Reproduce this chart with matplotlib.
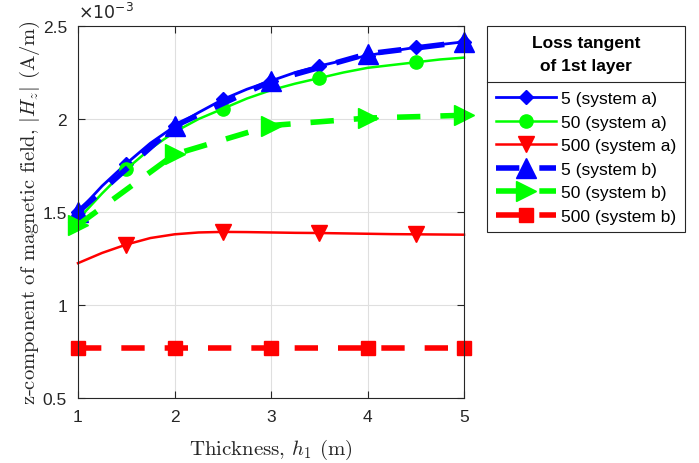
import matplotlib
matplotlib.use('Agg')
import matplotlib.pyplot as plt
from matplotlib.ticker import FuncFormatter, FixedLocator
from matplotlib.lines import Line2D

# ---- data (|Hz| in units of 1e-3 A/m) ----
thickness_a = [1.0, 1.25, 1.5, 1.75, 2.0, 2.25, 2.5, 2.75, 3.0, 3.25, 3.5, 3.75, 4.0, 4.25, 4.5, 4.75, 5.0]
hz_5_a = [1.50, 1.64, 1.76, 1.87, 1.96, 2.035, 2.105, 2.16, 2.205, 2.25, 2.285, 2.315, 2.34, 2.365, 2.385, 2.40, 2.415]
hz_50_a = [1.46, 1.60, 1.73, 1.84, 1.93, 2.00, 2.055, 2.11, 2.155, 2.19, 2.22, 2.25, 2.275, 2.29, 2.305, 2.32, 2.33]
hz_500_a = [1.225, 1.28, 1.325, 1.36, 1.38, 1.39, 1.393, 1.392, 1.39, 1.388, 1.387, 1.385, 1.383, 1.381, 1.38, 1.379, 1.378]

thickness_b = [1, 2, 3, 4, 5]
hz_5_b = [1.50, 1.962, 2.204, 2.35, 2.414]
hz_50_b = [1.43, 1.81, 1.965, 2.005, 2.02]
hz_500_b = [0.77, 0.77, 0.77, 0.77, 0.77]

labels = ['5 (system a)', '50 (system a)', '500 (system a)',
          '5 (system b)', '50 (system b)', '500 (system b)']
legend_title = 'Loss tangent\nof 1st layer'
x_ticks = [1, 2, 3, 4, 5]
y_ticks = [0.5, 1, 1.5, 2, 2.5]

W, H = 699, 464
fig = plt.figure(figsize=(W / 100, H / 100), dpi=100)
ax = fig.add_axes([78 / W, 1 - 399 / H, 386 / W, 372 / H])

sans = 'Liberation Sans'
blue, green, red = (0, 0, 1), (0, 1, 0), (1, 0, 0)

ax.plot(thickness_a, hz_5_a, color=blue, lw=2, marker='D', ms=7.5, markevery=2,
        clip_on=False, label=labels[0])
ax.plot(thickness_a, hz_50_a, color=green, lw=1.8, marker='o', ms=9.5,
        markevery=slice(2, None, 4), clip_on=False, label=labels[1])
ax.plot(thickness_a, hz_500_a, color=red, lw=1.8, marker='v', ms=11,
        markevery=slice(2, None, 4), clip_on=False, label=labels[2])
ax.plot(thickness_b, hz_5_b, color=blue, lw=4, ls='--', dashes=(4.2, 3.6), marker='^', ms=15,
        clip_on=False, label=labels[3])
ax.plot(thickness_b, hz_50_b, color=green, lw=4, ls='--', dashes=(4.2, 3.6), marker='>', ms=15,
        clip_on=False, label=labels[4])
ax.plot(thickness_b, hz_500_b, color=red, lw=4, ls='--', dashes=(4.2, 3.6), marker='s', ms=10,
        clip_on=False, label=labels[5])

ax.set_xlim(1, 5)
ax.set_ylim(0.5, 2.5)
ax.xaxis.set_major_locator(FixedLocator(x_ticks))
ax.yaxis.set_major_locator(FixedLocator(y_ticks))
ax.yaxis.set_major_formatter(FuncFormatter(lambda v, p: f'{v:g}'))
ax.xaxis.set_major_formatter(FuncFormatter(lambda v, p: f'{v:g}'))
ax.tick_params(direction='in', length=5, width=0.8, colors='#262626', labelsize=12.5,
               top=True, right=True, pad=8)
for lab in ax.get_xticklabels() + ax.get_yticklabels():
    lab.set_fontfamily(sans)
ax.grid(True, color='#dfdfdf', lw=0.8)
ax.set_axisbelow(True)
for s in ax.spines.values():
    s.set_color('#262626')
    s.set_linewidth(0.8)

ax.set_xlabel(r'Thickness, $h_1$ (m)', fontfamily='cmr10', math_fontfamily='cm',
              fontsize=15, color='#262626', labelpad=9.5)
ax.set_ylabel(r'z-component of magnetic field, $|H_z|$ (A/m)', fontfamily='cmr10',
              math_fontfamily='cm', fontsize=14.8, color='#262626', labelpad=0.5)
ax.text(0.0, 1.01, r'$\times10^{-3}$', transform=ax.transAxes, ha='left', va='bottom',
        fontsize=12.5, math_fontfamily='dejavusans', color='#262626')

leg = ax.legend(loc='upper left', bbox_to_anchor=(487 / W, 1 - 27 / H),
                bbox_transform=fig.transFigure, title=legend_title,
                title_fontproperties={'weight': 'bold', 'size': 12.5, 'family': sans},
                prop={'family': sans, 'size': 12.5}, fancybox=False, framealpha=1,
                edgecolor='#262626', handlelength=3.45, handletextpad=0.3,
                labelspacing=0.48, borderpad=0.5, borderaxespad=0, numpoints=1)
leg.get_frame().set_linewidth(0.8)
leg.get_title().set_multialignment('center')
leg.get_title().set_linespacing(1.7)
leg._legend_box.sep = 13

fig.canvas.draw()
lb = leg.get_window_extent()
tb = leg.get_title().get_window_extent()
first = leg.get_texts()[0].get_window_extent()
ysep = ((tb.y0 + first.y1) / 2) / H
fig.add_artist(Line2D([lb.x0 / W, lb.x1 / W], [ysep, ysep], transform=fig.transFigure,
                      color='#262626', lw=0.8))

fig.savefig('out.png', dpi=100)
